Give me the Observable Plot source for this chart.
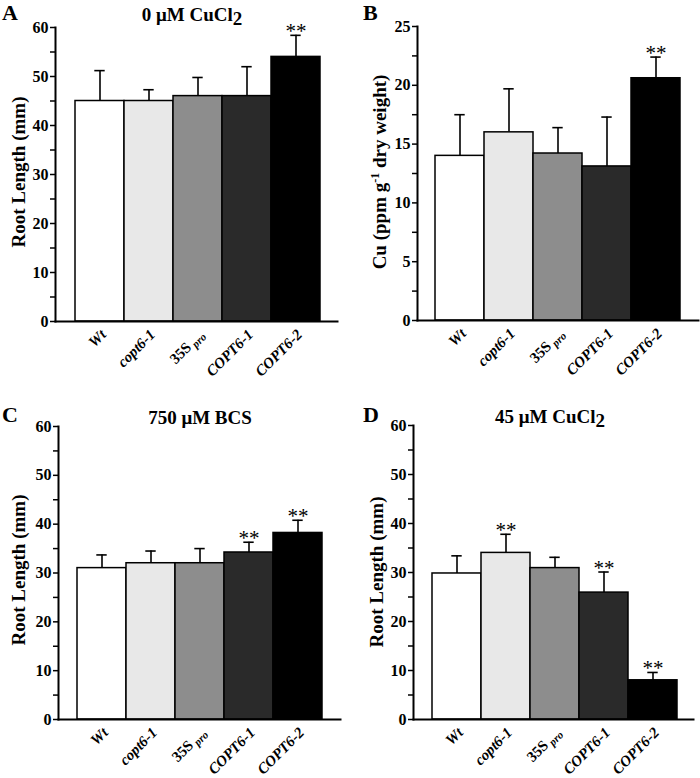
<!DOCTYPE html>
<html>
<head>
<meta charset="utf-8">
<script src="https://cdn.jsdelivr.net/npm/d3@7"></script>
<script src="https://cdn.jsdelivr.net/npm/@observablehq/plot@0.6"></script>
<style>
  html, body { margin: 0; padding: 0; background: #fff; }
  #root { position: relative; width: 700px; height: 778px; background: #fff; overflow: hidden; }
  .panel { position: absolute; }
  .panel svg { font-family: "Liberation Serif", "DejaVu Serif", serif; overflow: visible; }
  [aria-label="y-axis tick label"] text { font-weight: bold; }
</style>
</head>
<body>
<div id="root"></div>
<script>
// ---- data ----
const genotypes = ["Wt", "copt6-1", "35S pro", "COPT6-1", "COPT6-2"];

// A: 0 µM CuCl2, root length (mm)
const rootLen0Cu = [45, 45, 46, 46, 54];
const rootLen0CuSD = [6.2, 2.3, 3.8, 6.0, 4.4];
const rootLen0CuSig = ["", "", "", "", "**"];

// B: Cu content (ppm g-1 dry weight)
const cuContent = [14.0, 16.0, 14.2, 13.1, 20.6];
const cuContentSD = [3.5, 3.7, 2.2, 4.2, 1.8];
const cuContentSig = ["", "", "", "", "**"];

// C: 750 µM BCS, root length (mm)
const rootLenBCS = [31, 32, 32, 34.2, 38.2];
const rootLenBCSSD = [2.7, 2.5, 3.0, 2.1, 2.6];
const rootLenBCSSig = ["", "", "", "**", "**"];

// D: 45 µM CuCl2, root length (mm)
const rootLen45Cu = [29.8, 34, 30.9, 25.9, 8];
const rootLen45CuSD = [3.6, 3.8, 2.2, 4.2, 1.6];
const rootLen45CuSig = ["", "**", "", "**", "**"];

const yTicks60 = [0, 10, 20, 30, 40, 50, 60];
const yMinor60 = [5, 15, 25, 35, 45, 55];
const yTicks25 = [0, 5, 10, 15, 20, 25];
const yMinor25 = [2.5, 7.5, 12.5, 17.5, 22.5];

const barFills = ["#ffffff", "#e8e8e8", "#8d8d8d", "#2a2a2a", "#000000"];

function makePanel(cfg) {
  const W = 350, H = 389;
  const data = genotypes.map((g, i) => ({
    g, v: cfg.values[i], hi: cfg.values[i] + cfg.sd[i], s: cfg.sig[i]
  }));
  const bandW = (cfg.xRange[1] - cfg.xRange[0]) / genotypes.length;
  const capInset = (bandW - 11) / 2;
  const chart = Plot.plot({
    width: W, height: H,
    marginLeft: cfg.axisX, marginTop: cfg.yTop, marginBottom: H - cfg.yBottom, marginRight: W - cfg.axisRight,
    x: {domain: genotypes, range: cfg.xRange, padding: 0, axis: null},
    y: {domain: [0, cfg.yMax], axis: null},
    color: {domain: genotypes, range: barFills},
    style: {background: "white", fontFamily: "Liberation Serif, serif", color: "black", overflow: "visible"},
    marks: [
      Plot.ruleX(data, {x: "g", y1: "v", y2: "hi", stroke: "black", strokeWidth: 1.6}),
      Plot.tickY(data, {x: "g", y: "hi", insetLeft: capInset, insetRight: capInset, stroke: "black", strokeWidth: 1.6}),
      Plot.barY(data, {x: "g", y: "v", fill: "g", stroke: "black", strokeWidth: 1.5}),
      Plot.text(data, {x: "g", y: "hi", text: "s", lineAnchor: "bottom", dy: 3, fontSize: 21, fill: "black"}),
      Plot.axisY({ticks: cfg.ticks, tickSize: 5, tickPadding: 2, fontSize: 16, label: null, strokeWidth: 1.5}),
      Plot.axisY({ticks: cfg.minor, tickSize: 5, tickFormat: () => "", label: null, strokeWidth: 1.5}),
      Plot.frame({anchor: "left", stroke: "black", strokeWidth: 2}),
      Plot.frame({anchor: "bottom", stroke: "black", strokeWidth: 2}),
      Plot.text(genotypes, {x: d => d, frameAnchor: "bottom", text: d => d, rotate: -45, textAnchor: "end",
        dx: 7, dy: 14, fontSize: 15, fontWeight: "bold", fontStyle: "italic", fill: "black"})
    ]
  });
  const svg = d3.select(chart.tagName === "svg" ? chart : chart.querySelector("svg"));
  // fix the 35S pro label
  svg.selectAll("text").filter(function () { return this.textContent === "35S pro"; }).each(function () {
    const t = d3.select(this);
    t.text(null).style("font-style", "normal");
    t.append("tspan").text("35S");
    t.append("tspan").text(" pro").attr("font-size", 11).attr("font-style", "italic").attr("dy", 3);
  });
  // panel letter
  svg.append("text").attr("x", cfg.letterX).attr("y", cfg.letterY).attr("font-size", 22)
    .attr("text-anchor", "start").attr("font-weight", "bold").attr("fill", "black").text(cfg.letter);
  // title
  if (cfg.title) {
    const t = svg.append("text").attr("x", cfg.titleX).attr("y", cfg.titleY).attr("text-anchor", "middle")
      .attr("font-size", 19).attr("font-weight", "bold").attr("fill", "black");
    t.append("tspan").text(cfg.title);
    if (cfg.titleSub) t.append("tspan").text(cfg.titleSub).attr("dy", 4).attr("font-size", 19);
  }
  // y label
  const yl = svg.append("text").attr("transform", `translate(${cfg.ylabX},${cfg.ylabY}) rotate(-90)`)
    .attr("text-anchor", "middle").attr("font-size", 19).attr("font-weight", "bold").attr("fill", "black");
  cfg.ylabel.forEach(p => {
    const ts = yl.append("tspan").text(p.t);
    if (p.sup) ts.attr("font-size", 12).attr("dy", -7);
    if (p.after) ts.attr("dy", 7);
  });
  const div = document.createElement("div");
  div.className = "panel";
  div.style.left = cfg.left + "px";
  div.style.top = cfg.top + "px";
  div.appendChild(chart);
  document.getElementById("root").appendChild(div);
}

makePanel({
  left: 0, top: 0, letter: "A", letterX: 2, letterY: 20,
  title: "0 \u03BCM CuCl", titleSub: "2", titleX: 192, titleY: 21,
  values: rootLen0Cu, sd: rootLen0CuSD, sig: rootLen0CuSig,
  yMax: 60, ticks: yTicks60, minor: yMinor60,
  axisX: 55, yTop: 27, yBottom: 321, xRange: [73, 321], axisRight: 337,
  ylabX: 25, ylabY: 172, ylabel: [{t: "Root Length (mm)"}]
});
makePanel({
  left: 350, top: 0, letter: "B", letterX: 13, letterY: 20,
  values: cuContent, sd: cuContentSD, sig: cuContentSig,
  yMax: 25, ticks: yTicks25, minor: yMinor25,
  axisX: 67, yTop: 26, yBottom: 320, xRange: [83, 331], axisRight: 348,
  ylabX: 36, ylabY: 172, ylabel: [{t: "Cu (ppm g"}, {t: "-1", sup: true}, {t: " dry weight)", after: true}]
});
makePanel({
  left: 0, top: 389, letter: "C", letterX: 2, letterY: 33,
  title: "750 \u03BCM BCS", titleX: 200, titleY: 35,
  values: rootLenBCS, sd: rootLenBCSSD, sig: rootLenBCSSig,
  yMax: 60, ticks: yTicks60, minor: yMinor60,
  axisX: 58, yTop: 37, yBottom: 330, xRange: [75, 323], axisRight: 340,
  ylabX: 25, ylabY: 181, ylabel: [{t: "Root Length (mm)"}]
});
makePanel({
  left: 350, top: 389, letter: "D", letterX: 13, letterY: 33,
  title: "45 \u03BCM CuCl", titleSub: "2", titleX: 200, titleY: 34,
  values: rootLen45Cu, sd: rootLen45CuSD, sig: rootLen45CuSig,
  yMax: 60, ticks: yTicks60, minor: yMinor60,
  axisX: 63, yTop: 36, yBottom: 330, xRange: [80, 328], axisRight: 343,
  ylabX: 33, ylabY: 183, ylabel: [{t: "Root Length (mm)"}]
});
</script>
</body>
</html>
